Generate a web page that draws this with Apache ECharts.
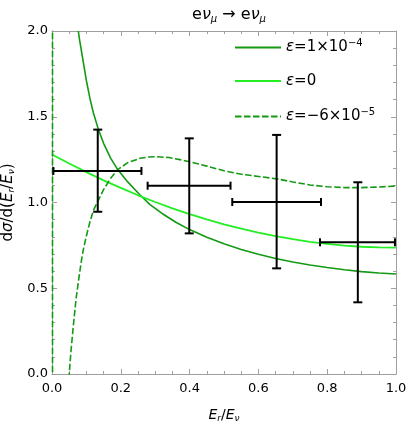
<!DOCTYPE html>
<html>
<head>
<meta charset="utf-8">
<script src="https://cdn.jsdelivr.net/npm/echarts@6/dist/echarts.min.js"></script>
<style>html,body{margin:0;padding:0;background:#fff}#c{width:407px;height:426px}</style>
</head>
<body>
<div id="c"></div>
<script>
// ---- data ----
const darkX = [0.0765,0.08,0.09,0.10,0.11,0.12,0.135,0.15,0.17,0.19,0.22,0.256,0.285,0.32,0.36,0.40,0.45,0.50,0.55,0.60,0.65,0.70,0.75,0.80,0.85,0.90,0.95,1.00];
const darkY = [2.0,1.95,1.83,1.71,1.61,1.525,1.425,1.345,1.26,1.195,1.12,1.044,0.988,0.936,0.885,0.842,0.797,0.759,0.726,0.698,0.674,0.653,0.636,0.621,0.608,0.597,0.589,0.583];

const lightX = [0,0.05,0.10,0.15,0.20,0.25,0.30,0.35,0.40,0.45,0.50,0.55,0.60,0.65,0.70,0.75,0.80,0.85,0.90,0.95,1.00];
const lightY = [1.28,1.227,1.177,1.129,1.085,1.042,1.003,0.966,0.932,0.901,0.873,0.847,0.824,0.804,0.786,0.771,0.759,0.749,0.742,0.738,0.737];

const dashX1 = [0.0015,0.0015];
const dashY1 = [2.2,-0.2];
const dashX2 = [0.049,0.055,0.062,0.07,0.0765,0.085,0.091,0.10,0.11,0.12,0.135,0.15,0.17,0.19,0.22,0.256,0.28,0.304,0.34,0.372,0.40,0.45,0.50,0.55,0.60,0.653,0.70,0.75,0.80,0.85,0.90,0.95,1.00];
const dashY2 = [-0.03,0.13,0.28,0.44,0.535,0.655,0.725,0.805,0.885,0.952,1.015,1.075,1.14,1.19,1.232,1.258,1.265,1.267,1.262,1.25,1.238,1.212,1.185,1.165,1.152,1.138,1.12,1.102,1.092,1.087,1.087,1.09,1.096];

const ptX   = [0.133,0.399,0.653,0.889];
const ptXLo = [0.004,0.278,0.524,0.779];
const ptXHi = [0.260,0.519,0.782,0.997];
const ptY   = [1.184,1.098,1.003,0.768];
const ptYLo = [0.946,0.820,0.616,0.418];
const ptYHi = [1.425,1.374,1.394,1.118];

const xTicks = [0,0.2,0.4,0.6,0.8,1.0];
const yTicks = [0,0.5,1.0,1.5,2.0];

const names = ['e1','e0','em'];
const labels = {
  e1: '{i|ε}=1×10{sup|−4}',
  e0: '{i|ε}=0',
  em: '{i|ε}=−6×10{sup|−5}'
};

const FONT = 'DejaVu Sans';
const DARK = '#139a13';
const LIGHT = '#22ee22';
const FRAME = '#a0a0a0';

const zip = (a,b) => a.map((v,i)=>[v,b[i]]);

const chart = echarts.init(document.getElementById('c'), null, {renderer:'canvas'});

function frameAxis(pos, isX, showLabel, extra) {
  const a = {
    type:'value', position:pos,
    min: isX ? xTicks[0] : yTicks[0],
    max: isX ? xTicks[xTicks.length-1] : yTicks[yTicks.length-1],
    interval: isX ? 0.2 : 0.5,
    axisLine:{show:true, onZero:false, lineStyle:{color:FRAME,width:1}},
    axisTick:{show:true, inside:true, length:5, lineStyle:{color:FRAME,width:1}},
    minorTick:{show:true, splitNumber: isX ? 4 : 5, length:3, lineStyle:{color:FRAME,width:1}},
    splitLine:{show:false},
    axisLabel:{show:showLabel, color:'#000', fontFamily:FONT, fontSize:13,
      margin: isX ? 8 : 4, formatter: v => v.toFixed(1)},
  };
  return Object.assign(a, extra||{});
}

const sub = {fontSize:9, fontFamily:FONT, fontStyle:'italic', padding:[7,0,0,0], color:'#000'};

const option = {
  animation:false,
  backgroundColor:'#fff',
  title:{
    text:'{n|e}{i|ν}{s|μ}{n| → e}{i|ν}{s|μ}',
    left:224, top:1, textAlign:'center',
    textStyle:{
      fontWeight:'normal',
      rich:{
        n:{fontFamily:FONT, fontSize:16, fontWeight:'normal', color:'#000'},
        i:{fontFamily:FONT, fontSize:16, fontWeight:'normal', fontStyle:'italic', color:'#000'},
        s:{fontFamily:FONT, fontSize:10, fontWeight:'normal', fontStyle:'italic', color:'#000', padding:[8,0,0,0]}
      }
    }
  },
  grid:{left:52, right:11, top:31, bottom:52, containLabel:false, outerBoundsMode:'none'},
  legend:{
    orient:'vertical', left:229, top:33, itemWidth:46, itemHeight:14, itemGap:18.5,
    data:names,
    formatter: n => labels[n],
    itemStyle:{opacity:0},
    textStyle:{
      fontFamily:FONT, fontSize:15, color:'#000',
      rich:{
        i:{fontFamily:FONT, fontSize:15, fontStyle:'italic', color:'#000'},
        sup:{fontFamily:FONT, fontSize:10, color:'#000', padding:[0,0,9,0]}
      }
    }
  },
  xAxis:[
    frameAxis('bottom', true, true, {
      name:'{i|E}{s|r}{n|/}{i|E}{s|ν}', nameLocation:'middle', nameGap:33,
      nameTextStyle:{rich:{
        i:{fontFamily:FONT,fontSize:14,fontStyle:'italic',color:'#000'},
        n:{fontFamily:FONT,fontSize:14,color:'#000'},
        s:sub
      }}
    }),
    frameAxis('top', true, false)
  ],
  yAxis:[
    frameAxis('left', false, true, {
      name:'{n|d}{i|σ}{n|/d(}{i|E}{s|r}{n|/}{i|E}{s|ν}{n|)}', nameLocation:'middle', nameGap:30, nameRotate:90,
      nameTextStyle:{rich:{
        i:{fontFamily:FONT,fontSize:15,fontStyle:'italic',color:'#000'},
        n:{fontFamily:FONT,fontSize:15,color:'#000'},
        s:sub
      }}
    }),
    frameAxis('right', false, false)
  ],
  series:[
    {name:'e1', type:'line', data:zip(darkX,darkY), symbol:'none', clip:true,
      lineStyle:{color:DARK, width:1.6}, itemStyle:{color:DARK}, z:3},
    {name:'e0', type:'line', data:zip(lightX,lightY), symbol:'none', clip:true,
      lineStyle:{color:LIGHT, width:1.8}, itemStyle:{color:LIGHT}, z:3},
    {name:'em', type:'line', data:zip(dashX2,dashY2), symbol:'none', clip:true,
      lineStyle:{color:DARK, width:1.6, type:[6.5,2.5]}, itemStyle:{color:DARK}, z:3},
    {name:'em', type:'line', data:zip(dashX1,dashY1), symbol:'none', clip:true,
      lineStyle:{color:DARK, width:1.6, type:[6.5,2.5]}, itemStyle:{color:DARK}, z:3},
    {name:'data', type:'custom', z:5, clip:false,
      data: ptX.map((x,i)=>[x, ptY[i], ptXLo[i], ptXHi[i], ptYLo[i], ptYHi[i]]),
      encode:{x:[0,2,3], y:[1,4,5]},
      renderItem:(params, api) => {
        const c = api.coord([api.value(0), api.value(1)]);
        const l = api.coord([api.value(2), api.value(1)]);
        const r = api.coord([api.value(3), api.value(1)]);
        const b = api.coord([api.value(0), api.value(4)]);
        const t = api.coord([api.value(0), api.value(5)]);
        const st = {stroke:'#000', lineWidth:2};
        const cw = 4.5, ch = 4;
        const line = (x1,y1,x2,y2) => ({type:'line', shape:{x1,y1,x2,y2}, style:st});
        return {type:'group', children:[
          line(l[0],c[1],r[0],c[1]),
          line(c[0],t[1],c[0],b[1]),
          line(l[0],c[1]-ch,l[0],c[1]+ch),
          line(r[0],c[1]-ch,r[0],c[1]+ch),
          line(c[0]-cw,t[1],c[0]+cw,t[1]),
          line(c[0]-cw,b[1],c[0]+cw,b[1])
        ]};
      }
    }
  ]
};
chart.setOption(option);
</script>
</body>
</html>
